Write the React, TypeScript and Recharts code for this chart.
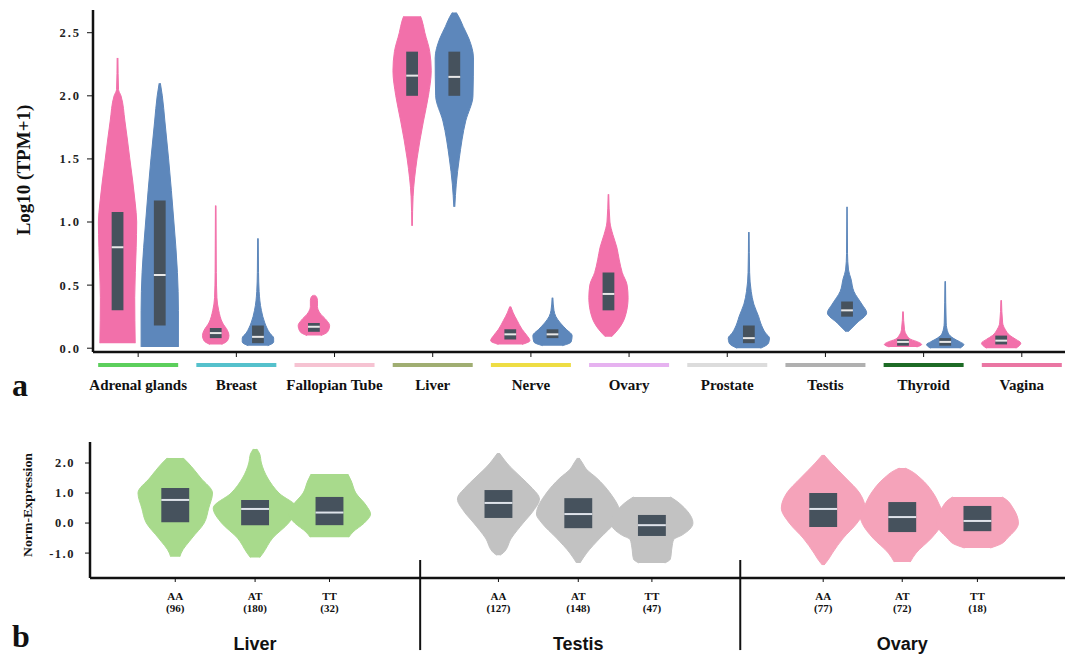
import React from 'react';
import { ComposedChart, Area, XAxis, YAxis, ReferenceArea, ReferenceLine } from 'recharts';

const SERIF = '"Liberation Serif", "Times New Roman", serif';
const SANS = '"Liberation Sans", Arial, sans-serif';

// ---- panel a: expression by tissue ----
const TISSUES = ['Adrenal glands', 'Breast', 'Fallopian Tube', 'Liver', 'Nerve', 'Ovary', 'Prostate', 'Testis', 'Thyroid', 'Vagina'];
const TISSUE_COLORS = ['#5ccf5c', '#55c1cc', '#f6c3d2', '#a0ae72', '#eedd44', '#e6b2f0', '#dcdcdc', '#b0b0b0', '#1d6b25', '#ea76a3'];
const TPM_TICKS = [0, 0.5, 1, 1.5, 2, 2.5];

// which tissue / sex each violin belongs to
const TPM_TISSUE = [0, 0, 1, 1, 2, 3, 3, 4, 4, 5, 6, 7, 8, 8, 9];
const TPM_SEX = ['F', 'M', 'F', 'M', 'F', 'F', 'M', 'F', 'M', 'F', 'M', 'M', 'F', 'M', 'F'];

// density profiles: [log10(TPM+1), relative density]
const TPM_PROFILES: number[][][] = [
  [[0.04, 0.9], [0.4, 0.875], [0.8, 0.95], [1.0, 0.975], [1.15, 0.9], [1.5, 0.625], [1.8, 0.375], [2.0, 0.175], [2.05, 0.05], [2.3, 0.02]],
  [[0.01, 0.95], [0.3, 0.95], [0.6, 0.9], [1.0, 0.72], [1.5, 0.45], [1.8, 0.26], [2.0, 0.13], [2.1, 0.03]],
  [[0.03, 0.3], [0.06, 0.6], [0.1, 0.675], [0.14, 0.6], [0.2, 0.35], [0.3, 0.15], [0.4, 0.06], [0.6, 0.03], [1.13, 0.015]],
  [[0.02, 0.5], [0.05, 0.8], [0.08, 0.8], [0.12, 0.6], [0.2, 0.35], [0.3, 0.175], [0.45, 0.06], [0.6, 0.03], [0.87, 0.015]],
  [[0.1, 0.35], [0.13, 0.7], [0.18, 0.8], [0.22, 0.65], [0.28, 0.3], [0.33, 0.18], [0.38, 0.18], [0.41, 0.12], [0.42, 0.03]],
  [[0.97, 0.015], [1.2, 0.05], [1.5, 0.25], [1.8, 0.58], [2.0, 0.83], [2.2, 0.975], [2.35, 0.9], [2.5, 0.65], [2.6, 0.5], [2.63, 0.43]],
  [[1.12, 0.025], [1.3, 0.1], [1.5, 0.25], [1.8, 0.58], [2.0, 0.95], [2.3, 0.975], [2.45, 0.75], [2.55, 0.45], [2.62, 0.25], [2.66, 0.1]],
  [[0.03, 0.6], [0.06, 1.0], [0.1, 0.85], [0.15, 0.6], [0.22, 0.35], [0.28, 0.15], [0.33, 0.025]],
  [[0.02, 0.5], [0.05, 0.95], [0.1, 1.0], [0.15, 0.7], [0.2, 0.4], [0.25, 0.175], [0.3, 0.075], [0.4, 0.02]],
  [[0.09, 0.15], [0.15, 0.5], [0.25, 0.85], [0.4, 1.0], [0.5, 0.95], [0.6, 0.7], [0.7, 0.55], [0.8, 0.425], [0.9, 0.225], [1.0, 0.075], [1.22, 0.015]],
  [[0.0, 0.6], [0.04, 1.0], [0.08, 1.05], [0.12, 0.85], [0.2, 0.6], [0.25, 0.5], [0.35, 0.25], [0.45, 0.12], [0.6, 0.04], [0.92, 0.015]],
  [[0.13, 0.05], [0.2, 0.5], [0.28, 1.0], [0.35, 0.75], [0.45, 0.35], [0.55, 0.2], [0.62, 0.075], [0.75, 0.025], [1.12, 0.01]],
  [[0.01, 0.7], [0.03, 0.95], [0.05, 0.75], [0.07, 0.4], [0.1, 0.2], [0.15, 0.075], [0.29, 0.015]],
  [[0.0, 0.75], [0.03, 0.95], [0.05, 0.75], [0.08, 0.4], [0.12, 0.15], [0.2, 0.05], [0.53, 0.015]],
  [[0.0, 0.75], [0.04, 1.0], [0.07, 0.75], [0.1, 0.45], [0.15, 0.2], [0.2, 0.075], [0.38, 0.015]],
];

// [q1, median, q3]
const TPM_BOXES = [
  [0.3, 0.8, 1.08], [0.18, 0.58, 1.17], [0.08, 0.12, 0.16], [0.04, 0.09, 0.18], [0.13, 0.17, 0.2],
  [2.0, 2.16, 2.35], [2.0, 2.15, 2.35], [0.07, 0.11, 0.15], [0.08, 0.11, 0.15], [0.3, 0.43, 0.6],
  [0.04, 0.08, 0.18], [0.25, 0.3, 0.37], [0.02, 0.05, 0.07], [0.02, 0.05, 0.08], [0.03, 0.06, 0.1],
];

// ---- panel b: norm-expression by genotype ----
const GROUPS = ['Liver', 'Testis', 'Ovary'];
const GROUP_COLORS = ['#a8da8c', '#c2c2c2', '#f5a3ba'];
const GENOTYPES = ['AA', 'AT', 'TT', 'AA', 'AT', 'TT', 'AA', 'AT', 'TT'];
const GENO_N = [96, 180, 32, 127, 148, 47, 77, 72, 18];
const NORM_TICKS = [-1, 0, 1, 2];

const NORM_PROFILES: number[][][] = [
  [[-1.12, 0.11], [-1.0, 0.14], [-0.5, 0.4], [0.0, 0.69], [0.5, 0.8], [1.0, 0.89], [1.5, 0.61], [2.0, 0.31], [2.17, 0.19]],
  [[-1.15, 0.11], [-1.0, 0.19], [-0.5, 0.42], [0.0, 0.8], [0.5, 1.0], [1.0, 0.57], [1.5, 0.3], [2.0, 0.15], [2.3, 0.11], [2.47, 0.04]],
  [[-0.47, 0.46], [-0.3, 0.56], [0.0, 0.83], [0.3, 0.98], [0.6, 0.87], [1.0, 0.63], [1.4, 0.52], [1.63, 0.44]],
  [[-1.07, 0.04], [-1.0, 0.11], [-0.5, 0.31], [0.0, 0.59], [0.4, 0.83], [0.8, 0.98], [1.2, 0.78], [1.5, 0.56], [2.0, 0.2], [2.2, 0.09], [2.33, 0.02]],
  [[-1.33, 0.04], [-1.0, 0.2], [-0.5, 0.52], [0.0, 0.87], [0.3, 1.0], [1.0, 0.76], [1.5, 0.44], [1.8, 0.19], [2.0, 0.1], [2.17, 0.02]],
  [[-1.33, 0.31], [-1.2, 0.44], [-0.8, 0.48], [-0.55, 0.52], [-0.4, 0.72], [0.0, 0.98], [0.5, 0.78], [0.8, 0.52], [0.87, 0.44]],
  [[-1.4, 0.02], [-1.2, 0.13], [-1.0, 0.22], [-0.5, 0.48], [0.0, 0.81], [0.5, 1.0], [1.0, 0.87], [1.5, 0.54], [2.0, 0.19], [2.27, 0.02]],
  [[-1.3, 0.19], [-1.0, 0.33], [-0.5, 0.7], [0.0, 0.96], [0.2, 1.0], [0.6, 0.89], [1.0, 0.74], [1.5, 0.43], [1.75, 0.19], [1.83, 0.07]],
  [[-0.83, 0.31], [-0.7, 0.56], [-0.5, 0.72], [0.0, 0.98], [0.5, 0.85], [0.8, 0.67], [0.87, 0.59]],
];

const NORM_BOXES = [
  [0.03, 0.77, 1.17], [-0.07, 0.47, 0.77], [-0.07, 0.35, 0.87],
  [0.17, 0.67, 1.1], [-0.17, 0.3, 0.83], [-0.43, -0.07, 0.27],
  [-0.13, 0.47, 1.0], [-0.3, 0.2, 0.7], [-0.27, 0.07, 0.57],
];

// layout (category slots)
const GENO_SLOTS = [0, 1.03, 1.99, 4.17, 5.2, 6.15, 8.36, 9.38, 10.35];
const GROUP_DIVIDERS = [3.16, 7.29];

const PINK = '#f270aa';
const BLUE = '#5d87bb';
const BOX = '#46525d';

const violinData = (profile: number[][], center: number, half: number) =>
  profile.map(([y, d]) => ({ y, w: [center - d * half, center + d * half] }));

const sideLabel = (text: string, dx: number, dy: number, size: number, length?: number) => (props: any) => {
  const vb = props.viewBox;
  const cx = vb.x + dx;
  const cy = vb.y + vb.height / 2 + dy;
  return (
    <text
      transform={`translate(${cx},${cy}) rotate(-90)`}
      textAnchor="middle"
      dominantBaseline="central"
      fontFamily={SERIF}
      fontWeight="bold"
      fontSize={size}
      fill="#111"
      textLength={length}
      lengthAdjust={length ? 'spacingAndGlyphs' : undefined}
    >
      {text}
    </text>
  );
};

const TissueTick = (props: any) => {
  const { x, y, payload } = props;
  const i = Math.round(payload.value);
  return (
    <g>
      <rect x={x - 40} y={y + 6} width={80} height={4} fill={TISSUE_COLORS[i]} />
      <text x={x} y={y + 33} textAnchor="middle" fontFamily={SERIF} fontWeight="bold" fontSize={15} fill="#111">
        {TISSUES[i]}
      </text>
    </g>
  );
};

const GenoTick = (props: any) => {
  const { x, y, index } = props;
  return (
    <g>
      <text x={x} y={y + 18} textAnchor="middle" fontFamily={SERIF} fontWeight="bold" fontSize={11} fill="#111">
        {GENOTYPES[index]}
      </text>
      <text x={x} y={y + 30} textAnchor="middle" fontFamily={SERIF} fontWeight="bold" fontSize={11} fill="#111">
        ({GENO_N[index]})
      </text>
      {index % 3 === 1 && (
        <text x={x} y={y + 68} textAnchor="middle" fontFamily={SANS} fontWeight="bold" fontSize={18} fill="#111">
          {GROUPS[Math.floor(index / 3)]}
        </text>
      )}
    </g>
  );
};

const axisLine = { stroke: '#111', strokeWidth: 2.5 };
const tickStyle = { fontFamily: SERIF, fontWeight: 'bold', fontSize: 12.5, fill: '#222', letterSpacing: 2 };

function TissuePanel() {
  const centers = TPM_TISSUE.map((t, i) => t + (TPM_SEX[i] === 'F' ? -0.21 : 0.22));
  return (
    <ComposedChart width={1070} height={400} layout="vertical" margin={{ top: 10, right: 5, bottom: 0, left: 33 }}>
      <XAxis
        type="number"
        domain={[-0.46, 9.44]}
        allowDataOverflow
        ticks={TISSUES.map((_, i) => i)}
        interval={0}
        height={48}
        tickSize={5}
        tickMargin={0}
        tick={<TissueTick />}
        axisLine={axisLine}
        tickLine={{ stroke: '#111' }}
      />
      <YAxis
        type="number"
        dataKey="y"
        reversed
        domain={[-0.03, 2.68]}
        allowDataOverflow
        ticks={TPM_TICKS}
        interval={0}
        width={60}
        tickSize={6}
        tickMargin={6}
        tickFormatter={(v: number) => v.toFixed(1)}
        tick={tickStyle}
        axisLine={axisLine}
        tickLine={{ stroke: '#111' }}
        label={{ content: sideLabel('Log10 (TPM+1)', -10, -11, 19) }}
      />
      {TPM_PROFILES.map((p, i) => {
        const color = TPM_SEX[i] === 'F' ? PINK : BLUE;
        return (
          <Area
            key={'v' + i}
            data={violinData(p, centers[i], 0.2)}
            dataKey="w"
            type="monotone"
            fill={color}
            fillOpacity={1}
            stroke={color}
            strokeWidth={1}
            dot={false}
            activeDot={false}
            isAnimationActive={false}
          />
        );
      })}
      {TPM_BOXES.map(([q1, , q3], i) => (
        <ReferenceArea key={'b' + i} x1={centers[i] - 0.06} x2={centers[i] + 0.06} y1={q1} y2={q3} fill={BOX} fillOpacity={1} stroke="none" />
      ))}
      {TPM_BOXES.map(([, med], i) => (
        <ReferenceLine
          key={'m' + i}
          segment={[{ x: centers[i] - 0.06, y: med }, { x: centers[i] + 0.06, y: med }]}
          stroke="#e8e8e8"
          strokeWidth={2}
        />
      ))}
    </ComposedChart>
  );
}

function GenotypePanel() {
  return (
    <ComposedChart width={1070} height={257} layout="vertical" margin={{ top: 42, right: 5, bottom: 0, left: 30 }}>
      <XAxis
        type="number"
        domain={[-1.1, 11.48]}
        allowDataOverflow
        ticks={GENO_SLOTS}
        interval={0}
        height={79}
        tickSize={4}
        tickMargin={0}
        tick={<GenoTick />}
        axisLine={axisLine}
        tickLine={{ stroke: '#111' }}
      />
      <YAxis
        type="number"
        dataKey="y"
        reversed
        domain={[-1.83, 2.7]}
        allowDataOverflow
        ticks={NORM_TICKS}
        interval={0}
        width={60}
        tickSize={5}
        tickMargin={10}
        tickFormatter={(v: number) => v.toFixed(1)}
        tick={{ ...tickStyle, fontSize: 12.5, letterSpacing: 1.5 }}
        axisLine={axisLine}
        tickLine={{ stroke: '#111' }}
        label={{ content: sideLabel('Norm-Expression', -2, -5, 12, 104) }}
      />
      {NORM_PROFILES.map((p, i) => {
        const color = GROUP_COLORS[Math.floor(i / 3)];
        return (
          <Area
            key={'v' + i}
            data={violinData(p, GENO_SLOTS[i], 0.54)}
            dataKey="w"
            type="monotone"
            fill={color}
            fillOpacity={1}
            stroke={color}
            strokeWidth={1}
            dot={false}
            activeDot={false}
            isAnimationActive={false}
          />
        );
      })}
      {NORM_BOXES.map(([q1, , q3], i) => (
        <ReferenceArea key={'b' + i} x1={GENO_SLOTS[i] - 0.18} x2={GENO_SLOTS[i] + 0.18} y1={q1} y2={q3} fill={BOX} fillOpacity={1} stroke="none" />
      ))}
      {NORM_BOXES.map(([, med], i) => (
        <ReferenceLine
          key={'m' + i}
          segment={[{ x: GENO_SLOTS[i] - 0.18, y: med }, { x: GENO_SLOTS[i] + 0.18, y: med }]}
          stroke="#dfe3ea"
          strokeWidth={2}
        />
      ))}
      {GROUP_DIVIDERS.map((d) => (
        <ReferenceLine
          key={'d' + d}
          segment={[{ x: d, y: -1.23 }, { x: d, y: -4.23 }]}
          ifOverflow="visible"
          stroke="#111"
          strokeWidth={2}
        />
      ))}
    </ComposedChart>
  );
}

const letter: React.CSSProperties = {
  position: 'absolute',
  left: 12,
  fontFamily: SERIF,
  fontWeight: 'bold',
  fontSize: 32,
  lineHeight: 1,
  color: '#111',
};

export default function App() {
  return (
    <div style={{ position: 'absolute', left: 0, top: 0, width: 1070, height: 657, background: '#fff' }}>
      <div style={{ position: 'absolute', left: 0, top: 0 }}>
        <TissuePanel />
      </div>
      <div style={{ position: 'absolute', left: 0, top: 400 }}>
        <GenotypePanel />
      </div>
      <div style={{ ...letter, top: 369 }}>a</div>
      <div style={{ ...letter, top: 620 }}>b</div>
    </div>
  );
}
